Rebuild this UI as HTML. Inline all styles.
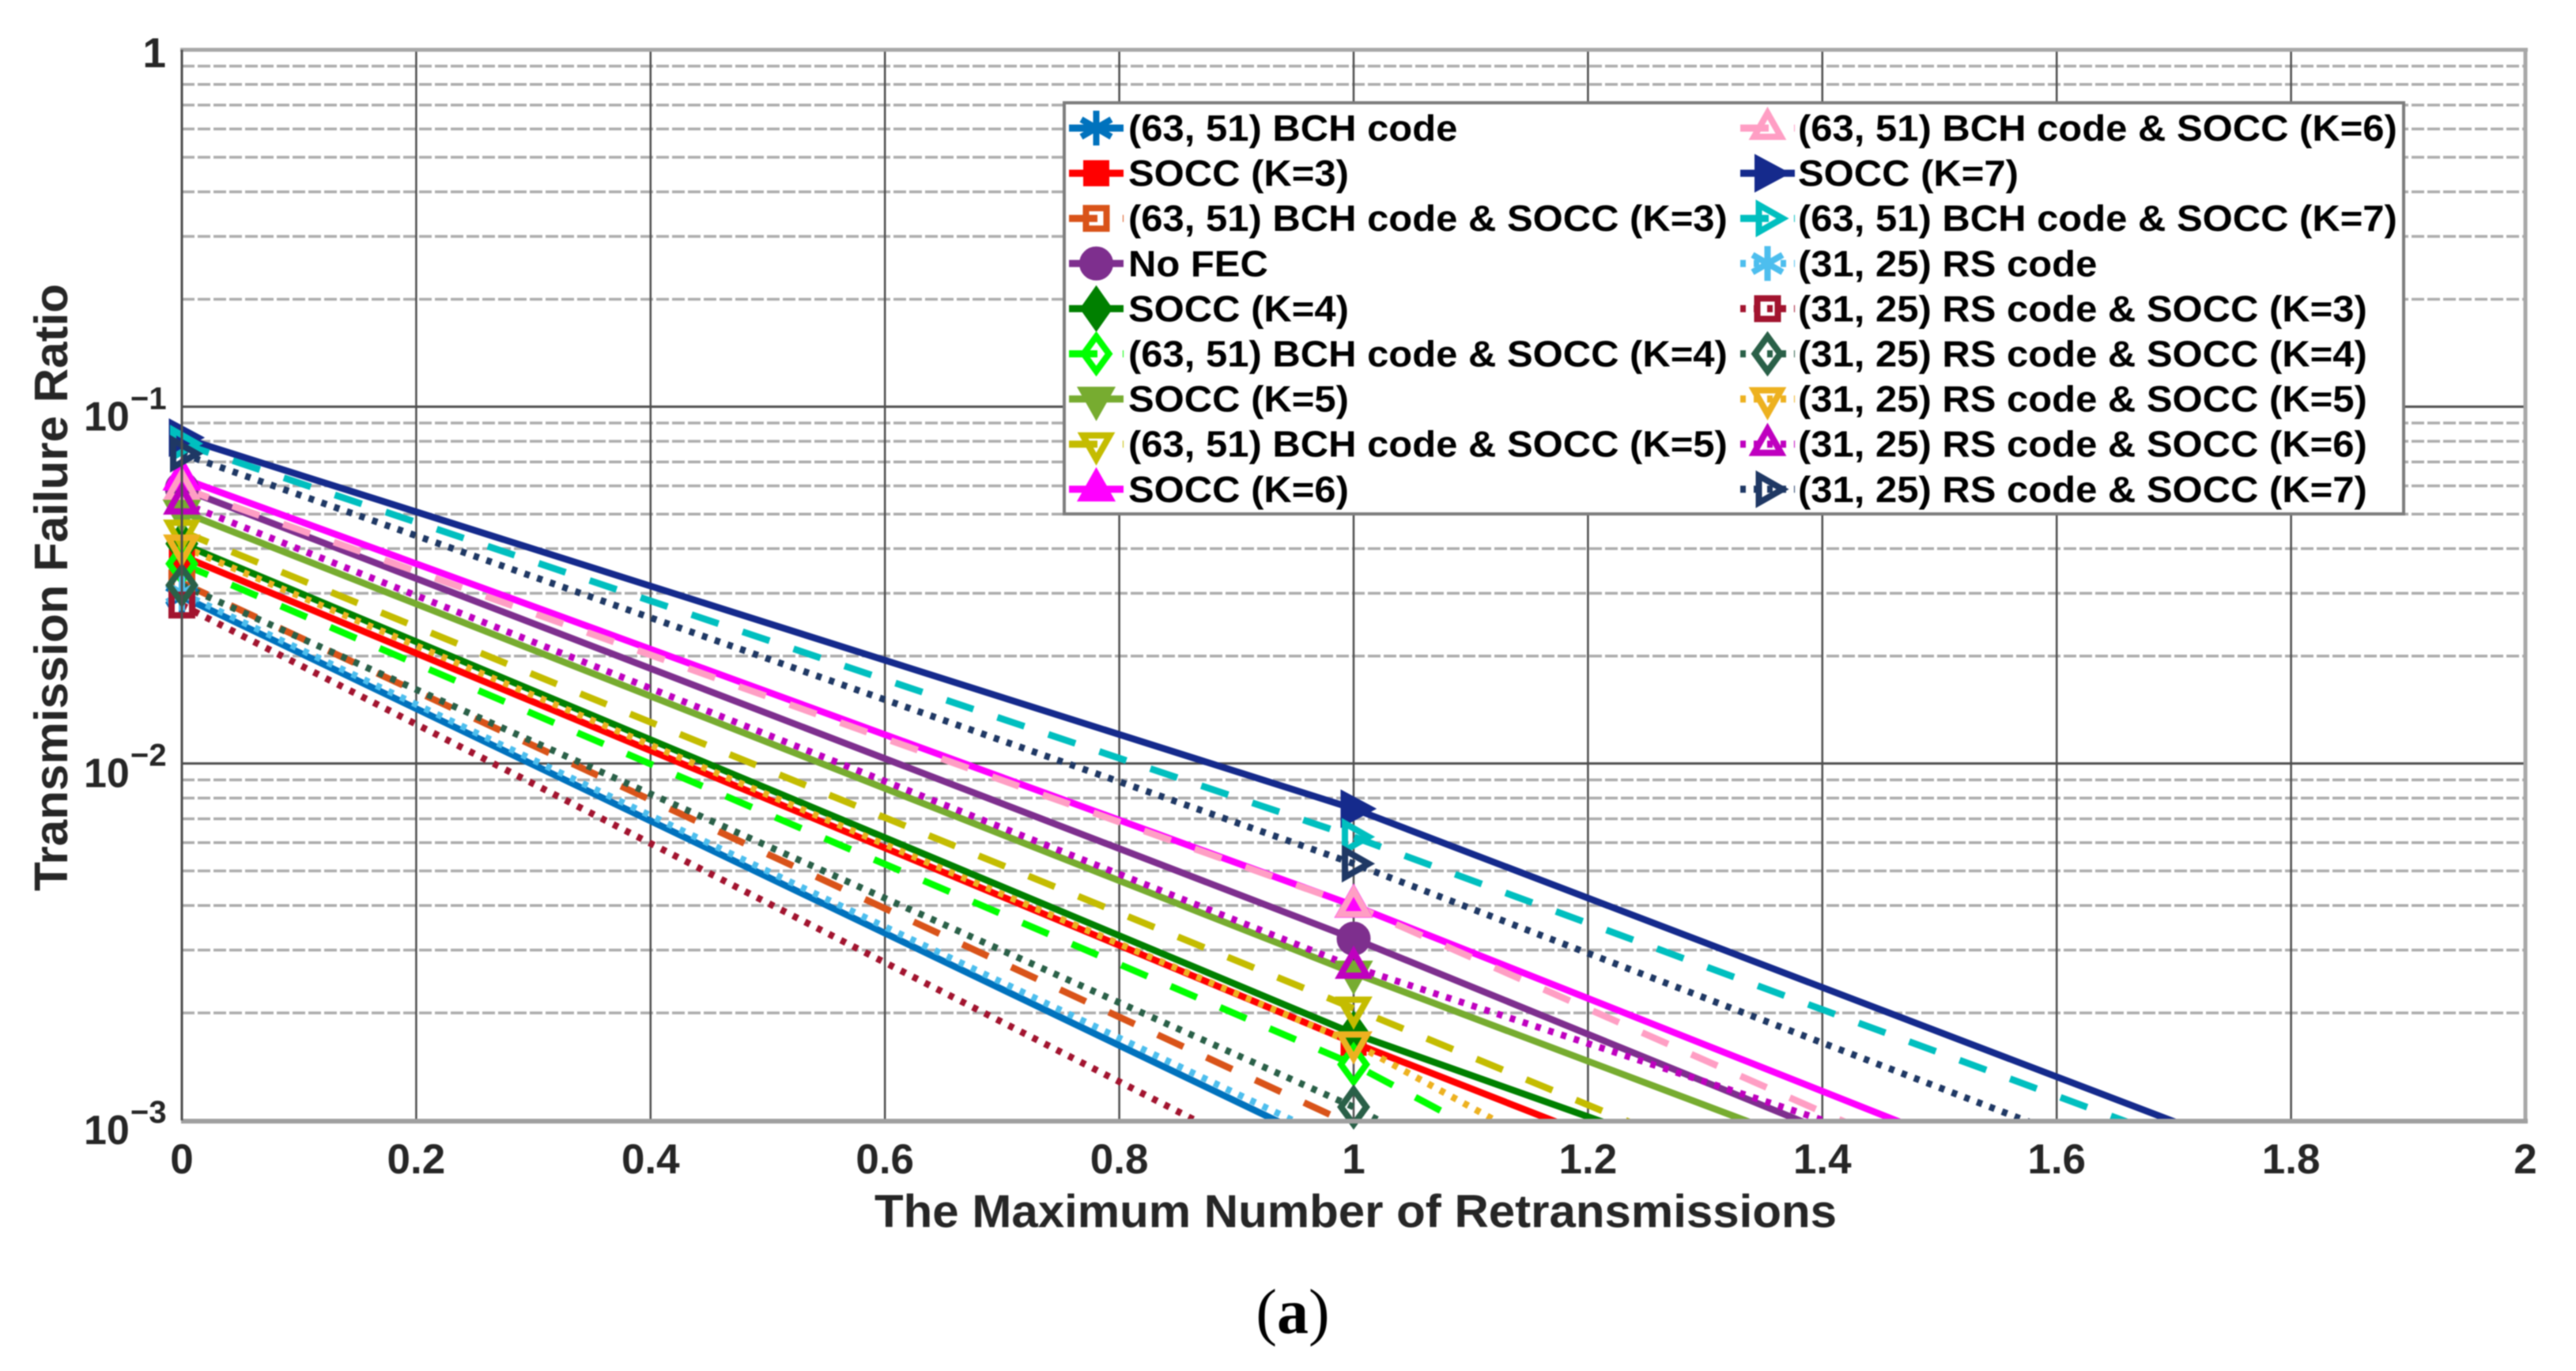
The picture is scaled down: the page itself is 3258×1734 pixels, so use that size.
<!DOCTYPE html>
<html lang="en">
<head>
<meta charset="utf-8">
<title>Transmission Failure Ratio vs Maximum Number of Retransmissions</title>
<style>
  html,body{margin:0;padding:0;background:#fff;width:3258px;height:1734px;overflow:hidden;}
  svg{display:block;filter:blur(0.7px);}
  text{font-family:"Liberation Sans",sans-serif;font-weight:bold;fill:#262626;}
</style>
</head>
<body>
<svg id="chart" xmlns="http://www.w3.org/2000/svg" width="3258" height="1734" viewBox="0 0 3258 1734">
  <rect x="0" y="0" width="3258" height="1734" fill="#ffffff"/>
  <defs><clipPath id="plot-clip"><rect x="230" y="63" width="2964" height="1354"/></clipPath></defs>
  <g id="grid"></g>
  <g id="series"></g>
  <g id="axes"></g>
  <g id="legend"></g>
  <text x="1106" y="1552" font-size="58" textLength="1217" lengthAdjust="spacingAndGlyphs">The Maximum Number of Retransmissions</text>
  <text transform="translate(85,1127) rotate(-90)" font-size="59" textLength="768" lengthAdjust="spacingAndGlyphs">Transmission Failure Ratio</text>
  <text x="1635" y="1686" text-anchor="middle" font-size="80" style="font-family:'Liberation Serif',serif;font-weight:normal;fill:#000">(<tspan font-weight="bold">a</tspan>)</text>
</svg>
<script>
// ---- data ----
const retransmissions = [0, 1, 2];
const bchCode   = [0.0294, 7.86e-4, 1.2e-5];
const socc3     = [0.0382, 1.65e-3, 8.6e-5];
const bchSocc3  = [0.0321, 9.67e-4, 2.7e-5];
const noFec     = [0.0590, 3.23e-3, 1.48e-4];
const socc4     = [0.0413, 1.75e-3, 1.20e-4];
const bchSocc4  = [0.0363, 1.435e-3, 2.58e-5];
const socc5     = [0.0508, 2.59e-3, 1.50e-4];
const bchSocc5  = [0.0447, 2.06e-3, 9.13e-5];
const socc6     = [0.0630, 4.00e-3, 2.00e-4];
const bchSocc6  = [0.0592, 4.00e-3, 1.43e-4];
const socc7     = [0.0819, 7.47e-3, 4.18e-4];
const bchSocc7  = [0.0788, 6.23e-3, 3.84e-4];
const rsCode    = [0.0300, 8.30e-4, 1.5e-5];
const rsSocc3   = [0.0278, 5.95e-4, 8e-6];
const rsSocc4   = [0.0316, 1.09e-3, 1.98e-5];
const rsSocc5   = [0.0406, 1.645e-3, 2.67e-5];
const rsSocc6   = [0.0538, 2.69e-3, 2.28e-4];
const rsSocc7   = [0.0738, 5.24e-3, 2.91e-4];

const seriesValues = [bchCode, socc3, bchSocc3, noFec, socc4, bchSocc4, socc5, bchSocc5, socc6,
                      bchSocc6, socc7, bchSocc7, rsCode, rsSocc3, rsSocc4, rsSocc5, rsSocc6, rsSocc7];
const seriesLabels = ["(63, 51) BCH code", "SOCC (K=3)", "(63, 51) BCH code & SOCC (K=3)", "No FEC", "SOCC (K=4)",
  "(63, 51) BCH code & SOCC (K=4)", "SOCC (K=5)", "(63, 51) BCH code & SOCC (K=5)", "SOCC (K=6)",
  "(63, 51) BCH code & SOCC (K=6)", "SOCC (K=7)", "(63, 51) BCH code & SOCC (K=7)", "(31, 25) RS code",
  "(31, 25) RS code & SOCC (K=3)", "(31, 25) RS code & SOCC (K=4)", "(31, 25) RS code & SOCC (K=5)",
  "(31, 25) RS code & SOCC (K=6)", "(31, 25) RS code & SOCC (K=7)"];
const seriesSlugs = ["bch-code", "socc-k3", "bch-socc-k3", "no-fec", "socc-k4", "bch-socc-k4", "socc-k5", "bch-socc-k5", "socc-k6",
  "bch-socc-k6", "socc-k7", "bch-socc-k7", "rs-code", "rs-socc-k3", "rs-socc-k4", "rs-socc-k5", "rs-socc-k6", "rs-socc-k7"];
const xTicks = [0, 0.2, 0.4, 0.6, 0.8, 1, 1.2, 1.4, 1.6, 1.8, 2];
const xTickLabels = ["0", "0.2", "0.4", "0.6", "0.8", "1", "1.2", "1.4", "1.6", "1.8", "2"];
const yDecades = [1, 0.1, 0.01, 0.001];
const yTickBases = ["1", "10", "10", "10"];
const yTickExponents = ["", "\u22121", "\u22122", "\u22123"];
const minorMultipliers = [2, 3, 4, 5, 6, 7, 8, 9];

// ---- styling (separate from data) ----
const seriesColors = ["#0072BD", "#FF0000", "#D95319", "#7E2F8E", "#008000", "#00FF00", "#77AC30", "#C4BC00", "#FF00FF",
  "#FF9EC4", "#152A8C", "#00BFBF", "#4DBEEE", "#A2142F", "#2A6048", "#EDB120", "#BF00BF", "#1F3864"];
const lineKinds = ["solid", "solid", "dash", "solid", "solid", "dash", "solid", "dash", "solid",
  "dash", "solid", "dash", "dot", "dot", "dot", "dot", "dot", "dot"];
const markerKinds = ["star", "square", "square", "circle", "diamond", "diamond", "down", "down", "up",
  "up", "right", "right", "star", "square", "diamond", "down", "up", "right"];
const markerFilled = [true, true, false, true, true, false, true, false, true,
  false, true, false, true, false, false, false, false, false];

const PLOT = {left: 230, right: 3194, top: 63, bottom: 1417};
const xScale = v => PLOT.left + (v - 0) / 2 * (PLOT.right - PLOT.left);
const yScale = v => PLOT.top + (-Math.log10(v)) / 3 * (PLOT.bottom - PLOT.top);

const NS = "http://www.w3.org/2000/svg";
function make(tag, attrs, parent) {
  const el = document.createElementNS(NS, tag);
  for (const k in attrs) el.setAttribute(k, attrs[k]);
  parent.appendChild(el);
  return el;
}
const gridG = document.getElementById("grid");
const seriesG = document.getElementById("series");
const axesG = document.getElementById("axes");
const legendG = document.getElementById("legend");

function dashFor(kind) {
  if (kind === "dash") return "36 32";
  if (kind === "dot") return "7 10";
  return "none";
}

// Trim a polyline at the lower axis limit, as the axes do when they clip.
function clippedPoints(vals) {
  const out = [];
  for (let j = 0; j < retransmissions.length; j++) {
    const px = xScale(retransmissions[j]);
    const py = yScale(vals[j]);
    if (py <= PLOT.bottom + 6) {
      out.push([px, py]);
      continue;
    }
    if (out.length) {
      const prev = out[out.length - 1];
      const t = (PLOT.bottom + 6 - prev[1]) / (py - prev[1]);
      out.push([prev[0] + t * (px - prev[0]), PLOT.bottom + 6]);
    }
    break;
  }
  return out.map(p => p[0].toFixed(1) + "," + p[1].toFixed(1)).join(" ");
}

function drawMarker(parent, kind, filled, color, cx, cy, name) {
  const g = make("g", {transform: "translate(" + cx + "," + cy + ")"}, parent);
  
  
  const sw = filled ? 3 : 8;
  const common = {fill: filled ? color : "none", stroke: color, "stroke-width": sw, "stroke-linejoin": "miter", "stroke-miterlimit": 8};
  if (kind === "square") {
    const h = filled ? 15 : 13;
    make("rect", Object.assign({x: -h, y: -h, width: 2 * h, height: 2 * h}, common), g);
  } else if (kind === "circle") {
    make("circle", Object.assign({r: 20}, common), g);
  } else if (kind === "diamond") {
    make("polygon", Object.assign({points: filled ? "0,-27 19,0 0,27 -19,0" : "0,-22 16,0 0,22 -16,0"}, common), g);
  } else if (kind === "up") {
    make("polygon", Object.assign({points: filled ? "0,-25 22,14 -22,14" : "0,-19 17,11 -17,11"}, common), g);
  } else if (kind === "down") {
    make("polygon", Object.assign({points: filled ? "0,25 22,-14 -22,-14" : "0,19 17,-11 -17,-11"}, common), g);
  } else if (kind === "right") {
    make("polygon", Object.assign({points: filled ? "26,0 -15,-22 -15,22" : "19,0 -11,-17 -11,17"}, common), g);
  } else if (kind === "star") {
    [[0, -22, 0, 22], [-19, -11, 19, 11], [-19, 11, 19, -11]].forEach(p => {
      make("line", {x1: p[0], y1: p[1], x2: p[2], y2: p[3], stroke: color, "stroke-width": 8}, g);
    });
  }
  return g;
}

// ---- grid ----
yDecades.slice(1).forEach(dec => {
  minorMultipliers.forEach(m => {
    const line = make("line", {x1: PLOT.left, x2: PLOT.right, y1: yScale(m * dec), y2: yScale(m * dec),
      stroke: "#adadad", "stroke-width": 3.5, "stroke-dasharray": "16 4"}, gridG);
    
    
  });
});
yDecades.slice(1, 3).forEach(dec => {
  const line = make("line", {x1: PLOT.left, x2: PLOT.right, y1: yScale(dec), y2: yScale(dec), stroke: "#4e4e4e", "stroke-width": 3}, gridG);
  
  
});
xTicks.slice(1, -1).forEach(t => {
  const line = make("line", {x1: xScale(t), x2: xScale(t), y1: PLOT.top, y2: PLOT.bottom, stroke: "#4e4e4e", "stroke-width": 2.5}, gridG);
  
  
});

// ---- series ----
seriesValues.forEach((vals, i) => {
  const attrs = {points: clippedPoints(vals), fill: "none", stroke: seriesColors[i], "stroke-width": 8.5,
    "stroke-linejoin": "round", "clip-path": "url(#plot-clip)"};
  const dash = dashFor(lineKinds[i]);
  if (dash !== "none") attrs["stroke-dasharray"] = dash;
  const line = make("polyline", attrs, seriesG);
  
  
});
seriesValues.forEach((vals, i) => {
  retransmissions.forEach((r, j) => {
    if (vals[j] >= 1e-3) {
      drawMarker(seriesG, markerKinds[i], markerFilled[i], seriesColors[i], xScale(r), yScale(vals[j]), 'marker-' + seriesSlugs[i]);
    }
  });
});

// ---- axes box ----
const boxTop = make("line", {x1: PLOT.left - 2, x2: PLOT.right + 3, y1: PLOT.top, y2: PLOT.top, stroke: "#a8a8a8", "stroke-width": 5}, axesG);


const boxRight = make("line", {x1: PLOT.right, x2: PLOT.right, y1: PLOT.top, y2: PLOT.bottom + 3, stroke: "#a8a8a8", "stroke-width": 5}, axesG);


const boxBottom = make("line", {x1: PLOT.left - 1, x2: PLOT.right + 3, y1: PLOT.bottom + 1, y2: PLOT.bottom + 1, stroke: "#a0a0a0", "stroke-width": 6}, axesG);


const boxLeft = make("line", {x1: PLOT.left, x2: PLOT.left, y1: PLOT.top, y2: PLOT.bottom, stroke: "#4e4e4e", "stroke-width": 3}, axesG);



// ---- tick labels ----
xTicks.forEach((t, i) => {
  const label = make("text", {x: xScale(t), y: 1484, "text-anchor": "middle", "font-size": 53}, axesG);
  label.textContent = xTickLabels[i];
  
  
});
yDecades.forEach((d, i) => {
  const yTick = yScale(d);
  if (i === 0) {
    const one = make("text", {x: 210, y: yTick + 22, "text-anchor": "end", "font-size": 53}, axesG);
    one.textContent = yTickBases[i];
    
    
    return;
  }
  const base = make("text", {x: 106, y: yTick + 30, "font-size": 52}, axesG);
  base.textContent = yTickBases[i];
  
  
  const exp = make("text", {x: 165, y: yTick + 3, "font-size": 40}, axesG);
  exp.textContent = yTickExponents[i];
  
  
});

// ---- legend ----
const legendBox = make("rect", {x: 1346, y: 130, width: 1694, height: 520, fill: "#ffffff", stroke: "#7d7d7d", "stroke-width": 4}, legendG);


seriesLabels.forEach((labelText, i) => {
  const col = i < 9 ? 0 : 1;
  const row = i % 9;
  const lineX = col === 0 ? 1352 : 2201;
  const textX = col === 0 ? 1427 : 2274;
  const rowY = 162 + row * 57.1;
  const entry = make("g", {}, legendG);
  
  
  const sampleAttrs = {x1: lineX, x2: lineX + 69, y1: rowY, y2: rowY, stroke: seriesColors[i], "stroke-width": 9};
  const dash = dashFor(lineKinds[i]);
  if (dash !== "none") sampleAttrs["stroke-dasharray"] = dash;
  const sample = make("line", sampleAttrs, entry);
  
  
  drawMarker(entry, markerKinds[i], markerFilled[i], seriesColors[i], lineX + 34.5, rowY, 'legend-marker');
  const txt = make("text", {transform: "translate(" + textX + "," + (rowY + 16) + ") scale(1.065,1)", "font-size": 46, style: "fill:#000"}, entry);
  txt.textContent = labelText;
  
  
});
</script>
</body>
</html>
